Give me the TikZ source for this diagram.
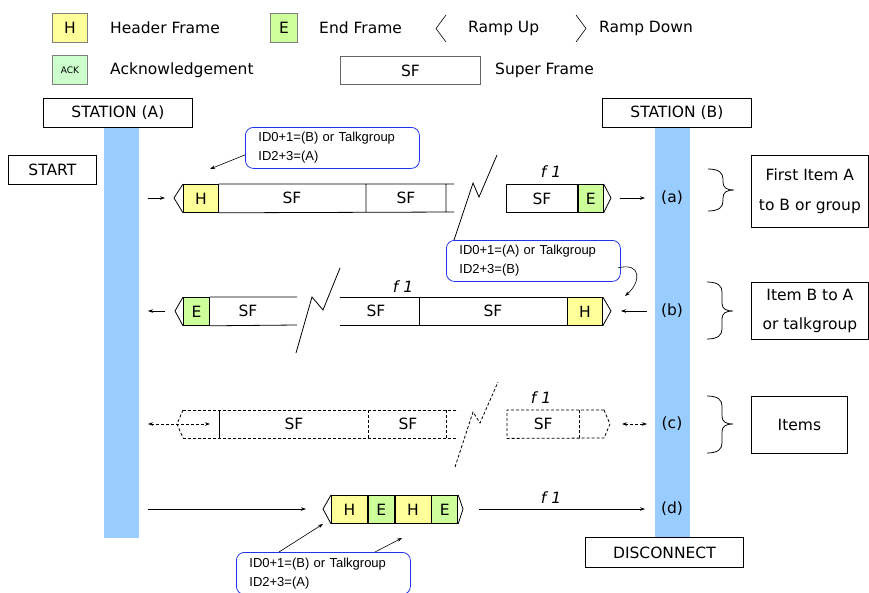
\documentclass[tikz,border=0pt]{standalone}
\usepackage{fontspec}
\setmainfont{DejaVu Sans}
\newfontfamily\arialfont{Liberation Sans}
\usetikzlibrary{arrows.meta}
\definecolor{hyel}{HTML}{FFFF99}
\definecolor{egrn}{HTML}{CCFF99}
\definecolor{ackg}{HTML}{CCFFCC}
\definecolor{barblue}{HTML}{99CCFF}
\definecolor{callblue}{HTML}{2233EE}
\newcommand\curlybr[4]{%
  \draw[line width=0.75pt] (#1,#2) .. controls (#1+11,#2) and (#1+15,#2+4) .. (#1+15,#2+10)
    -- (#1+15,#3-8) .. controls (#1+15,#3-2) and (#1+19,#3) .. (#1+26,#3)
    .. controls (#1+19,#3) and (#1+15,#3+2) .. (#1+15,#3+8)
    -- (#1+15,#4-10) .. controls (#1+15,#4-4) and (#1+11,#4) .. (#1,#4);}
\begin{document}
\begin{tikzpicture}[x=1pt,y=-1pt,
  ct/.style={font=\fontsize{15.5}{18}\selectfont, inner sep=0pt},
  lg/.style={ct, anchor=west},
  box/.style={draw, line width=0.8pt, fill=white, anchor=north west, inner sep=0pt, font=\fontsize{15.5}{18}\selectfont},
  hf/.style={draw=black, line width=0.8pt, fill=hyel, anchor=north west, minimum width=35pt, minimum height=28pt, inner sep=0pt, font=\fontsize{15.5}{18}\selectfont},
  ef/.style={hf, fill=egrn, minimum width=26pt},
  fr/.style={line width=0.8pt, draw=black},
  dfr/.style={fr, dash pattern=on 3pt off 2pt},
  arr/.style={-{Stealth[length=5pt,width=3.5pt]}, line width=0.6pt},
  darr/.style={{Stealth[length=5pt,width=3.5pt]}-{Stealth[length=5pt,width=3.5pt]}, line width=0.6pt, dash pattern=on 3pt off 2pt},
  callout/.style={draw=callblue, rounded corners=8pt, line width=0.8pt, anchor=north west, minimum width=174pt, minimum height=41pt, text width=148pt, align=left, font=\arialfont\fontsize{13}{19}\selectfont, inner xsep=13pt, inner ysep=0pt},
  fone/.style={font=\itshape\fontsize{15.5}{18}\selectfont, inner sep=0pt}
]
\useasboundingbox (0,0) rectangle (869,592);

% ---------- legend ----------
\node[hf, minimum width=35pt, minimum height=29pt, draw=black!50] (lgH) at (52,13) {H};
\node[lg] (lgHt) at (110,28) {Header Frame};
\node[ef, minimum width=27pt, minimum height=29pt, draw=black!50] (lgE) at (270,13) {E};
\node[lg] (lgEt) at (319,28) {End Frame};
\draw[fr, line width=0.6pt] (446,15) -- (436,28.5) -- (446,42);
\node[lg] (lgRU) at (468,28) {Ramp Up};
\draw[fr, line width=0.6pt] (576,15) -- (586,28.5) -- (576,42);
\node[lg] (lgRD) at (599,28) {Ramp Down};
\node[hf, fill=ackg, minimum width=35pt, minimum height=29pt, draw=black!50, font=\fontsize{9}{10}\selectfont] (lgA) at (52,55) {ACK};
\node[lg] (lgAt) at (110,70) {Acknowledgement};
\node[box, draw=black!60, minimum width=140pt, minimum height=28pt] (lgSF) at (340,56) {SF};
\node[lg] (lgSFt) at (495,70) {Super Frame};

% ---------- stations ----------
\node[fill=barblue, anchor=north west, minimum width=35pt, minimum height=411pt, inner sep=0pt] (barA) at (104,127) {};
\node[fill=barblue, anchor=north west, minimum width=35pt, minimum height=411pt, inner sep=0pt] (barB) at (655,127) {};
\node[box, minimum width=149pt, minimum height=29pt] (stA) at (43,98) {STATION (A)};
\node[box, minimum width=149pt, minimum height=29pt] (stB) at (602,98) {STATION (B)};
\node[box, minimum width=88pt, minimum height=29pt] (start) at (8,155) {START};
\node[box, minimum width=158pt, minimum height=30pt] (disc) at (585,537) {DISCONNECT};

% ---------- row (a) ----------
\coordinate (aS) at (148,198); \coordinate (aT) at (165,198);
\draw[arr] (aS) -- (aT);
\node[hf] (aH) at (183,184) {H};
\draw[fr] (aH.north west) -- (174,198) -- (aH.south west);
\draw[fr] (aH.north east) -- (454,184) (aH.south east) -- (454,212)
  (366,184) -- (366,212) (446,184) -- (446,212);
\node[ct] (aSF1) at (292,198) {SF};
\node[ct] (aSF2) at (406,198) {SF};
\draw[fr] (454,240) -- (473,183) -- (479,197) -- (497,155);
\node[hf, fill=white, minimum width=71pt] (aSF3) at (506,184) {SF};
\node[ef, minimum width=25pt] (aE) at (aSF3.north east) {E};
\draw[fr] (aE.north east) -- (611,198) -- (aE.south east);
\node[fone] (af1) at (551,172) {f\,\,1};
\coordinate (aS2) at (620,198); \coordinate (aT2) at (645,198);
\draw[arr] (aS2) -- (aT2);
\node[ct] (la) at (672,198) {(a)};
\curlybr{708}{169}{190}{211}
\node[box, minimum width=117pt, minimum height=72pt, align=center, font=\fontsize{15.5}{30}\selectfont] (ia) at (751,155) {First Item A\\to B or group};

\node[callout] (c1) at (245,127) {ID0+1=(B) or Talkgroup\\ID2+3=(A)};
\coordinate (c1t) at (210,169);
\draw[arr] ([yshift=-7pt]c1.west) -- (c1t);

% ---------- row (b) ----------
\coordinate (bS) at (165,311); \coordinate (bT) at (148,311);
\draw[arr] (bS) -- (bT);
\node[ef] (bE) at (183,297) {E};
\draw[fr] (bE.north west) -- (175,311) -- (bE.south west);
\draw[fr] (bE.north east) -- (297,297) (bE.south east) -- (297,325);
\node[ct] (bSF1) at (248,311) {SF};
\draw[fr] (296,353) -- (312,297) -- (323,310) -- (340,268);
\draw[fr] (340,297) -- (567,297) (340,325) -- (567,325) (419,297) -- (419,325);
\node[ct] (bSF2) at (376,311) {SF};
\node[ct] (bSF3) at (493,311) {SF};
\node[hf] (bH) at (567,297) {H};
\draw[fr] (bH.north east) -- (611,311) -- (bH.south east);
\node[fone] (bf1) at (403,287) {f\,\,1};
\coordinate (bS2) at (647,311); \coordinate (bT2) at (621,311);
\draw[arr] (bS2) -- (bT2);
\node[ct] (lb) at (672,311) {(b)};
\curlybr{707}{282}{311}{339}
\node[box, minimum width=117pt, minimum height=57pt, align=center, font=\fontsize{15.5}{29}\selectfont] (ib) at (751,282) {Item B to A\\or talkgroup};

\node[callout] (c2) at (446,240) {ID0+1=(A) or Talkgroup\\ID2+3=(B)};
\coordinate (c2t) at (625,296);
\draw[arr] ([xshift=-3pt,yshift=-7pt]c2.east) .. controls (642,262) and (641,282) .. (c2t);

% ---------- row (c) ----------
\coordinate (cS) at (148,424); \coordinate (cT) at (210,424);
\draw[darr] (cS) -- (cT);
\draw[dfr] (183,410) -- (177,424) -- (183,438);
\draw[dfr] (183,410) -- (458,410) (183,438) -- (458,438)
  (368,410) -- (368,438) (446,410) -- (446,438);
\draw[fr] (219,410) -- (219,438);
\node[ct] (cSF1) at (294,424) {SF};
\node[ct] (cSF2) at (408,424) {SF};
\draw[dfr] (455,467) -- (473,412) -- (480,423) -- (498,382);
\node[anchor=north west, minimum width=72pt, minimum height=28pt, inner sep=0pt, font=\fontsize{15.5}{18}\selectfont] (cSF3) at (507,410) {SF};
\coordinate (cEr) at (604,410);
\draw[dfr] (cEr) -- (cSF3.north west) -- (cSF3.south west) -- (604,438)
  (cSF3.north east) -- (cSF3.south east);
\draw[dfr] (cEr) -- (610,424) -- (604,438);
\node[fone] (cf1) at (541,398) {f\,\,1};
\coordinate (cS2) at (622,424); \coordinate (cT2) at (647,424);
\draw[darr] (cS2) -- (cT2);
\node[ct] (lc) at (672,424) {(c)};
\curlybr{707}{396}{424}{453}
\node[box, minimum width=96pt, minimum height=57pt] (ic) at (751,396) {Items};

% ---------- row (d) ----------
\coordinate (dS) at (148,509); \coordinate (dT) at (306,509);
\draw[arr] (dS) -- (dT);
\node[hf, minimum width=36pt] (dH1) at (331,495) {H};
\node[ef] (dE1) at (dH1.north east) {E};
\node[hf, minimum width=36pt] (dH2) at (dE1.north east) {H};
\node[ef] (dE2) at (dH2.north east) {E};
\draw[fr] (dH1.north west) -- (323,509) -- (dH1.south west);
\draw[fr] (dE2.north east) -- (463,509) -- (dE2.south east);
\coordinate (dS2) at (479,509); \coordinate (dT2) at (645,509);
\draw[arr] (dS2) -- (dT2);
\node[fone] (df1) at (551,498) {f\,\,1};
\node[ct] (ld) at (672,509) {(d)};

\node[callout, minimum height=42pt] (c3) at (236,552) {ID0+1=(B) or Talkgroup\\ID2+3=(A)};
\coordinate (c3t1) at (323,524); \coordinate (c3t2) at (402,538);
\draw[arr] ([xshift=43pt]c3.north west) -- (c3t1);
\draw[arr] ([xshift=139pt]c3.north west) -- (c3t2);
\end{tikzpicture}
\end{document}
